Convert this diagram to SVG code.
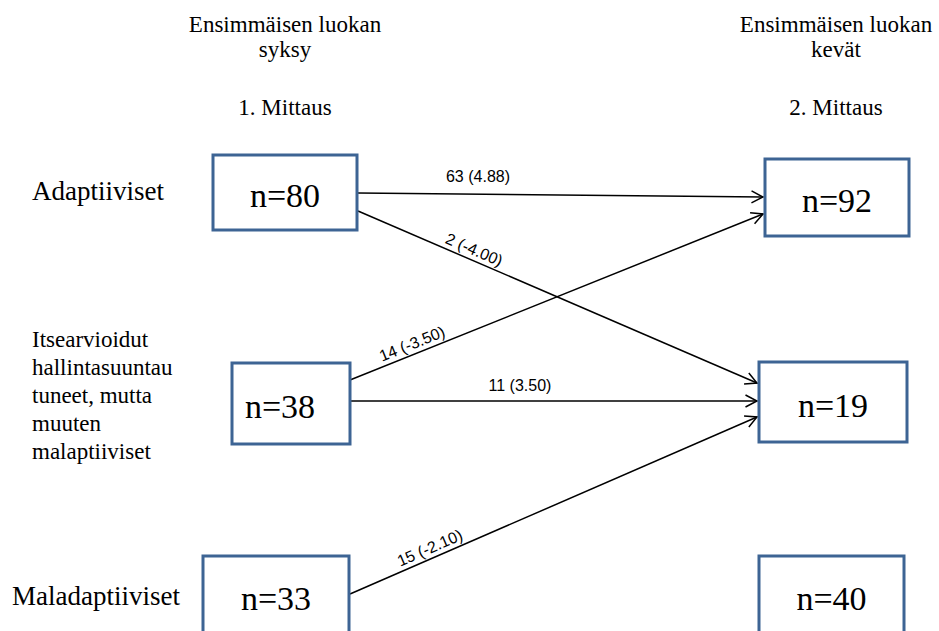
<svg xmlns="http://www.w3.org/2000/svg" width="939" height="631" viewBox="0 0 939 631">
<style>
.bg{fill:#ffffff}
.box{fill:#ffffff;stroke:#3D6494;stroke-width:3}
.ntxt{font-family:"Liberation Serif","Times New Roman",serif;font-size:34px;fill:#000;text-anchor:middle}
.hdr{font-family:"Liberation Serif","Times New Roman",serif;font-size:23px;fill:#000;text-anchor:middle}
.side{font-family:"Liberation Serif","Times New Roman",serif;font-size:27px;fill:#000}
.side2{font-family:"Liberation Serif","Times New Roman",serif;font-size:23px;fill:#000}
.lbl{font-family:"Liberation Sans",Arial,sans-serif;font-size:16px;fill:#000;text-anchor:middle}
.conn{stroke:#000;stroke-width:1.5;fill:none;marker-end:url(#arr)}
</style>
<defs>
<marker id="arr" markerUnits="userSpaceOnUse" markerWidth="14" markerHeight="14" viewBox="0 0 14 14" refX="12.5" refY="7" orient="auto">
<path d="M1,1 L12.5,7 L1,13" fill="none" stroke="#000" stroke-width="1.5"/>
</marker>
</defs>
<rect class="bg" x="0" y="0" width="939" height="631"/>
<g id="headers">
<text class="hdr" x="285" y="32">Ensimmäisen luokan</text>
<text class="hdr" x="285" y="57">syksy</text>
<text class="hdr" x="285" y="115">1. Mittaus</text>
<text class="hdr" x="836" y="32">Ensimmäisen luokan</text>
<text class="hdr" x="836" y="57">kevät</text>
<text class="hdr" x="836" y="115">2. Mittaus</text>
</g>
<g id="rowlabels">
<text class="side" x="32" y="200">Adaptiiviset</text>
<text class="side2" x="32" y="347">Itsearvioidut</text>
<text class="side2" x="32" y="375">hallintasuuntau</text>
<text class="side2" x="32" y="403">tuneet, mutta</text>
<text class="side2" x="32" y="431">muuten</text>
<text class="side2" x="32" y="459">malaptiiviset</text>
<text class="side" x="12" y="605">Maladaptiiviset</text>
</g>
<g id="connectors">
<line class="conn" x1="358" y1="193" x2="763" y2="197"/>
<line class="conn" x1="358" y1="211" x2="757" y2="383"/>
<line class="conn" x1="350" y1="380" x2="763" y2="214"/>
<line class="conn" x1="350" y1="401" x2="757" y2="401"/>
<line class="conn" x1="350" y1="594" x2="757" y2="417"/>
<text class="lbl" x="478" y="182">63 (4.88)</text>
<text class="lbl" transform="translate(470,259.3) rotate(23.3)" x="0" y="-5">2 (-4.00)</text>
<text class="lbl" transform="translate(416,353.5) rotate(-21.9)" x="0" y="-5">14 (-3.50)</text>
<text class="lbl" x="520" y="391">11 (3.50)</text>
<text class="lbl" transform="translate(434,557.5) rotate(-23.5)" x="0" y="-5">15 (-2.10)</text>
</g>
<g id="n80"><rect class="box" x="213" y="155" width="144" height="75"/><text class="ntxt" x="285" y="207">n=80</text></g>
<g id="n92"><rect class="box" x="765" y="159" width="144" height="77"/><text class="ntxt" x="837" y="212">n=92</text></g>
<g id="n38"><rect class="box" x="232" y="363" width="118" height="81"/><text class="ntxt" x="280" y="418">n=38</text></g>
<g id="n19"><rect class="box" x="759" y="362" width="148" height="80"/><text class="ntxt" x="833" y="417">n=19</text></g>
<g id="n33"><rect class="box" x="203" y="556" width="146" height="90"/><text class="ntxt" x="276" y="610">n=33</text></g>
<g id="n40"><rect class="box" x="759" y="556" width="145" height="90"/><text class="ntxt" x="831.5" y="610">n=40</text></g>
</svg>
